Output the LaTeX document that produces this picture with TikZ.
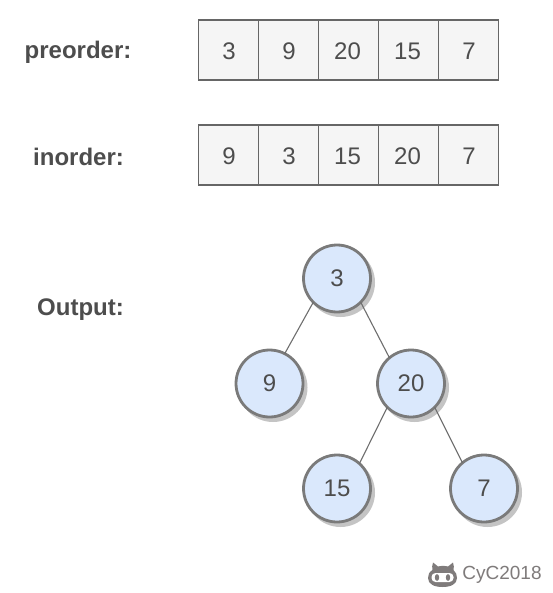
\documentclass[tikz,border=0pt]{standalone}
\usepackage{fontspec}
\setmainfont{Liberation Sans}
\definecolor{txt}{HTML}{4D4D4D}
\definecolor{edge}{HTML}{6E6E6E}
\definecolor{cellfill}{HTML}{F5F5F5}
\definecolor{cellline}{HTML}{666666}
\definecolor{circfill}{HTML}{DAE8FC}
\definecolor{circline}{HTML}{7A7A7A}
\definecolor{shade}{HTML}{C4C4C4}
\definecolor{logo}{HTML}{7F7B7B}
\tikzset{
  cellbox/.style={draw=cellline,line width=1.5pt,fill=cellfill,minimum size=60pt,inner sep=0pt,outer sep=0pt},
  celltext/.style={text=txt,inner sep=0pt,font=\fontsize{24}{28}\selectfont},
  lab/.style={text=txt,inner sep=0pt,font=\fontsize{24}{28}\selectfont\bfseries},
  treenode/.style={circle,draw=circline,line width=2.8pt,fill=circfill,minimum size=67pt,inner sep=0pt,outer sep=0pt,text=txt,font=\fontsize{24}{28}\selectfont},
  treeshadow/.style={circle,fill=shade,minimum size=69pt,inner sep=0pt,outer sep=0pt},
  link/.style={draw=edge,line width=1.1pt},
}
\begin{document}
\begin{tikzpicture}[x=1pt,y=-1pt]
\useasboundingbox (0,0) rectangle (552,593);
\fill[white] (0,0) rectangle (552,593);
% labels
\node[lab] (lp) at (78,52) {preorder:};
\node[lab] (li) at (78.5,156.5) {inorder:};
\node[lab] (lo) at (80.5,309.5) {Output:};
% arrays
\foreach \n/\x in {a/228.5,b/288.5,c/348.5,d/408.5,e/468.5}{
  \node[cellbox] (p\n) at (\x,50) {};
  \node[cellbox] (i\n) at (\x,155) {};
}
\foreach \n in {a,b,c,d}{
  \draw[draw=cellline,line width=1.5pt] (p\n.north east) -- (p\n.south east);
  \draw[draw=cellline,line width=1.5pt] (i\n.north east) -- (i\n.south east);
}
\node[celltext] (pat) at (229,51) {3};
\node[celltext] (pbt) at (289,51) {9};
\node[celltext] (pct) at (347.5,51) {20};
\node[celltext] (pdt) at (407.5,51) {15};
\node[celltext] (pet) at (469,51) {7};
\node[celltext] (iat) at (229,156) {9};
\node[celltext] (ibt) at (289,156) {3};
\node[celltext] (ict) at (347.5,156) {15};
\node[celltext] (idt) at (407.5,156) {20};
\node[celltext] (iet) at (469,156) {7};
% shadows
\foreach \n/\x/\y in {sa/340.5/282.5,sb/273/387.5,sc/414.5/387.5,sd/340.5/492.5,se/487.5/492.5}{
  \node[treeshadow] (\n) at (\x,\y) {};
}
% tree
\node[treenode] (n3) at (337,278.5) {\raisebox{-.5pt}{3}};
\node[treenode] (n9) at (269.5,383.5) {\raisebox{-.5pt}{9}};
\node[treenode] (n20) at (411,383.5) {\raisebox{-.5pt}{20}};
\node[treenode] (n15) at (337,488.5) {\raisebox{-.5pt}{15}};
\node[treenode] (n7) at (484,488.5) {\raisebox{-.5pt}{7}};
\draw[link] (n3.225) -- (n9.63);
\draw[link] (n3.-45) -- (n20.130);
\draw[link] (n20.225) -- (n15.48);
\draw[link] (n20.-45) -- (n7.130);
% logo
\fill[logo]
  (433,562.5) -- (438,566.5) .. controls (441,565.7) and (445,565.7) .. (448,566.5)
  -- (453,562.5) .. controls (454,565) and (454,568) .. (453.5,570)
  .. controls (456,572) and (457,575) .. (457,578)
  .. controls (457,584) and (451,587) .. (442.5,587)
  .. controls (434,587) and (428,584) .. (428,578)
  .. controls (428,575) and (429,572) .. (432.5,570)
  .. controls (432,568) and (432,565) .. (433,562.5) -- cycle;
\fill[white,rounded corners=4pt] (431.5,573) rectangle (453.5,582);
\fill[logo] (437,577.5) ellipse (2.2 and 3.4) (448,577.5) ellipse (2.2 and 3.4);
\node[text=logo,inner sep=0pt,font=\fontsize{19}{23}\selectfont] (brand) at (502,574.5) {CyC2018};
\end{tikzpicture}
\end{document}
